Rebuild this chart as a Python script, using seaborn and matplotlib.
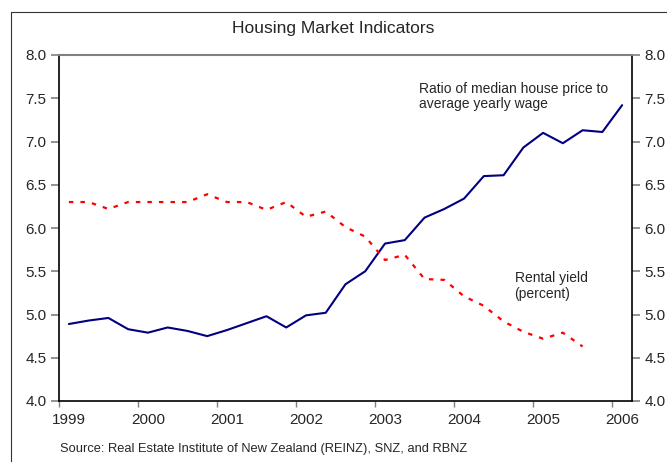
# Housing market indicators, quarterly 1999Q1 - 2006Q1
import numpy as np
import pandas as pd
import matplotlib
matplotlib.use("Agg")
import matplotlib.pyplot as plt
import seaborn as sns
from matplotlib.lines import Line2D

#### data
years = ["1999", "2000", "2001", "2002", "2003", "2004", "2005", "2006"]
house_price_ratio = [4.89, 4.93, 4.96, 4.83, 4.79, 4.85, 4.81, 4.75, 4.82, 4.90,
                     4.98, 4.85, 4.99, 5.02, 5.35, 5.50, 5.82, 5.86, 6.12, 6.22,
                     6.34, 6.60, 6.61, 6.93, 7.10, 6.98, 7.13, 7.11, 7.42]
rental_yield = [6.30, 6.30, 6.22, 6.30, 6.30, 6.30, 6.30, 6.39, 6.30, 6.30,
                6.21, 6.30, 6.13, 6.19, 6.01, 5.90, 5.63, 5.69, 5.41, 5.40,
                5.21, 5.10, 4.92, 4.80, 4.72, 4.79, 4.63]

ratio_df = pd.DataFrame({"q": np.arange(len(house_price_ratio)), "value": house_price_ratio})
yield_df = pd.DataFrame({"q": np.arange(len(rental_yield)), "value": rental_yield})

sns.set_style("white")
plt.rcParams["font.family"] = ["Liberation Sans", "DejaVu Sans"]

fig = plt.figure(figsize=(6.67, 4.62), dpi=100)
ax = fig.add_axes([59 / 667, 1 - 401 / 462, (632 - 59) / 667, (401 - 55) / 462])

sns.lineplot(data=ratio_df, x="q", y="value", ax=ax, color="#000080", linewidth=1.5)
sns.lineplot(data=yield_df, x="q", y="value", ax=ax, color="#ff0000", linewidth=1.6,
             linestyle=(0, (2, 3.2)))

ax.set_xlim(-0.5, len(house_price_ratio) - 0.5)
ax.set_ylim(4.0, 8.0)
ax.set_yticks(np.arange(4.0, 8.01, 0.5))
ax.set_yticklabels([f"{v:.1f}" for v in np.arange(4.0, 8.01, 0.5)])

# ticks between quarters at year boundaries, labels on the first quarter
ax.set_xticks(np.arange(-0.5, 28, 4))
ax.set_xticklabels([])
ax.set_xticks(np.arange(0, 29, 4), minor=True)
ax.set_xticklabels(years, minor=True)
ax.tick_params(axis="x", which="major", direction="out", length=4, width=1, color="#808080", bottom=True)
ax.tick_params(axis="x", which="minor", length=0, pad=9, labelsize=11)
ax.tick_params(axis="y", direction="out", length=6, width=1.2, color="#808080",
               left=True, right=True, labelleft=True, labelright=True, labelsize=11, pad=3)

ax.set_xlabel("")
ax.set_ylabel("")

for side in ["left", "bottom", "right"]:
    ax.spines[side].set_color("black")
    ax.spines[side].set_linewidth(1.2)
ax.spines["top"].set_color("#808080")
ax.spines["top"].set_linewidth(1.5)

ax.text(0.628, 0.923, "Ratio of median house price to\naverage yearly wage",
        transform=ax.transAxes, fontsize=10, va="top", ha="left", linespacing=1.15)
ax.text(0.795, 0.376, "Rental yield\n(percent)",
        transform=ax.transAxes, fontsize=10, va="top", ha="left", linespacing=1.15)

fig.text(0.5, 1 - 28 / 462, "Housing Market Indicators", ha="center", va="center", fontsize=12.5)
fig.text(60 / 667, 1 - 449 / 462, "Source: Real Estate Institute of New Zealand (REINZ), SNZ, and RBNZ",
         ha="left", va="center", fontsize=9.3)

# outer frame: only the left and top edges are inside the image
frame_x = 10.5 / 667
frame_y = 1 - 11.5 / 462
fig.lines.append(Line2D([frame_x, frame_x], [0, frame_y], transform=fig.transFigure,
                        color="#333333", linewidth=0.8))
fig.lines.append(Line2D([frame_x, 1], [frame_y, frame_y], transform=fig.transFigure,
                        color="#333333", linewidth=0.8))

fig.savefig("out.png", dpi=100)
